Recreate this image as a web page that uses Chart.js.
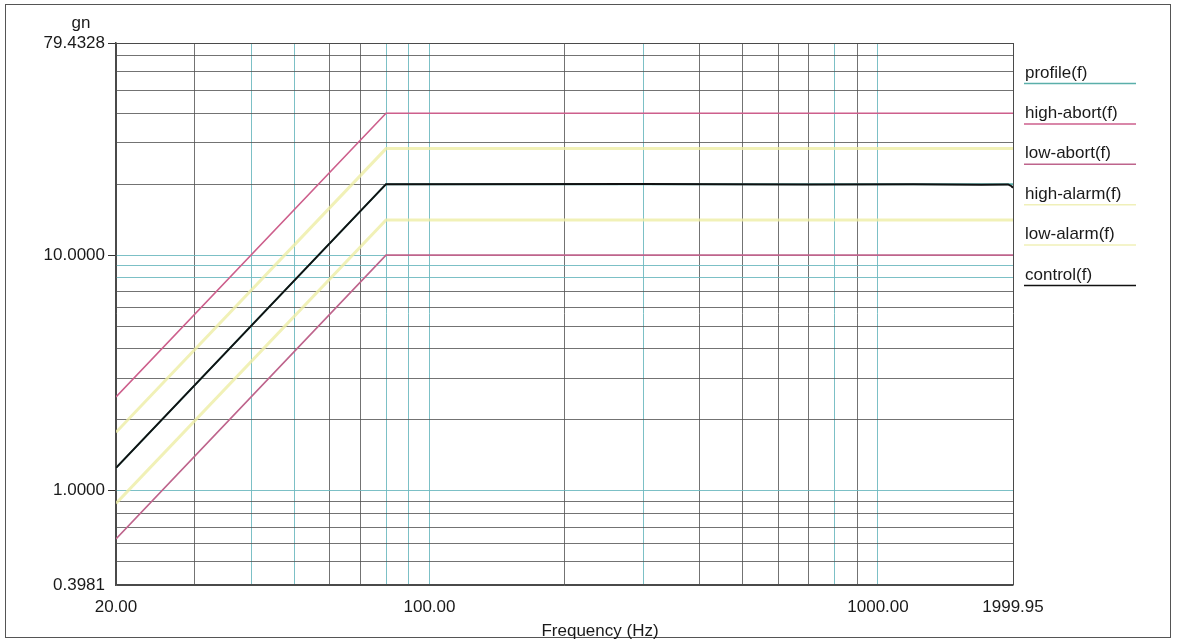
<!DOCTYPE html>
<html>
<head>
<meta charset="utf-8">
<script src="https://cdn.jsdelivr.net/npm/chart.js@4.4.0/dist/chart.umd.min.js"></script>
<style>
    html, body { margin: 0; padding: 0; background: #fff; }
    #wrap { position: relative; width: 1179px; height: 642px; overflow: hidden; }
    #frame { position: absolute; left: 5px; top: 4px; width: 1166px; height: 634px;
             border: 1.5px solid #555; box-sizing: border-box; }
    canvas { position: absolute; left: 0; top: 0; }
</style>
</head>
<body>
<div id="wrap">
    <div id="frame"></div>
    <canvas id="chart" width="1179" height="642"></canvas>
</div>
<script>
// Frequências (Hz) e níveis (gn)
const freqLimites = [20, 80, 1999.95];
const profile   = [1.25, 20, 20];
const highAbort = [2.5, 40, 40];
const lowAbort  = [0.625, 10, 10];
const highAlarm = [1.77, 28.3, 28.3];
const lowAlarm  = [0.884, 14.1, 14.1];

const freqControle = [20, 80, 300, 700, 1200, 1700, 1950, 1985, 1999.95];
const controle     = [1.25, 20, 20.05, 19.95, 20.0, 19.9, 19.95, 19.6, 19.3];

// Linhas de grade e rótulos dos eixos
const xGrade = [20, 30, 40, 50, 60, 70, 80, 90, 100, 200, 300, 400, 500, 600, 700, 800, 900, 1000, 1999.95];
const xRotulos = [20, 100, 1000, 1999.95];
const yGrade = [0.3981, 0.5, 0.6, 0.7, 0.8, 0.9, 1, 2, 3, 4, 5, 6, 7, 8, 9, 10, 20, 30, 40, 50, 60, 70, 79.4328];
const yRotulos = [0.3981, 1, 10, 79.4328];

// cores da grade (o scan mistura ciano e cinza)
const xCiano = [40, 50, 80, 90, 100, 300, 800, 1000];
const yCiano = [1, 8, 9, 10];
const COR_CIANO = 'rgba(110, 185, 192, 0.9)';
const COR_CINZA = 'rgba(80, 80, 80, 0.8)';
const COR_MOLDURA = '#4a4a4a';
const FONTE = '"Liberation Sans", Arial, sans-serif';

function pontos(xs, ys) {
    return xs.map((x, i) => ({ x, y: ys[i] }));
}

function contem(lista, v) {
    return lista.some(a => Math.abs(a - v) < 1e-6);
}

const textosPlugin = {
    id: 'textos',
    afterDraw(chart) {
        const ctx = chart.ctx;
        ctx.save();
        ctx.fillStyle = '#1a1a1a';
        ctx.font = '17px ' + FONTE;
        ctx.textAlign = 'center';
        ctx.textBaseline = 'middle';
        ctx.fillText('gn', 81, 23);
        ctx.fillText('Frequency (Hz)', 600, 631);

        // legenda sublinhada à direita
        ctx.textAlign = 'left';
        chart.data.datasets.forEach((ds, i) => {
            const y = 73 + i * 40.4;
            ctx.fillStyle = '#1a1a1a';
            ctx.fillText(ds.label, 1025, y);
            ctx.strokeStyle = ds.legendColor || ds.borderColor;
            ctx.lineWidth = 1.5;
            ctx.beginPath();
            ctx.moveTo(1024, y + 10.5);
            ctx.lineTo(1136, y + 10.5);
            ctx.stroke();
        });
        ctx.restore();
    }
};

const ctx = document.getElementById('chart').getContext('2d');
new Chart(ctx, {
    type: 'line',
    data: {
        datasets: [
            { label: 'profile(f)', data: pontos(freqLimites, profile),
              borderColor: 'rgba(90, 175, 170, 1)', borderWidth: 2, order: 2 },
            { label: 'high-abort(f)', data: pontos(freqLimites, highAbort),
              borderColor: 'rgba(205, 95, 140, 1)', borderWidth: 1.6, order: 1 },
            { label: 'low-abort(f)', data: pontos(freqLimites, lowAbort),
              borderColor: 'rgba(190, 100, 140, 1)', borderWidth: 1.6, order: 1 },
            { label: 'high-alarm(f)', data: pontos(freqLimites, highAlarm),
              borderColor: 'rgba(238, 238, 165, 0.8)', legendColor: 'rgba(240, 240, 185, 1)', borderWidth: 3, order: 1 },
            { label: 'low-alarm(f)', data: pontos(freqLimites, lowAlarm),
              borderColor: 'rgba(238, 238, 165, 0.8)', legendColor: 'rgba(240, 240, 185, 1)', borderWidth: 3, order: 1 },
            { label: 'control(f)', data: pontos(freqControle, controle),
              borderColor: '#111', borderWidth: 2, order: 0 }
        ]
    },
    options: {
        responsive: false,
        animation: false,
        events: [],
        layout: { padding: { left: 0, right: 166, top: 43, bottom: 0 } },
        elements: { point: { radius: 0 }, line: { tension: 0 } },
        plugins: { legend: { display: false }, tooltip: { enabled: false } },
        scales: {
            x: {
                type: 'logarithmic',
                min: 20,
                max: 1999.95,
                afterBuildTicks: (s) => { s.ticks = xGrade.map(v => ({ value: v })); },
                afterFit: (s) => { s.height = 57; },
                border: { display: true, color: COR_MOLDURA, width: 1.5 },
                grid: {
                    drawTicks: false,
                    lineWidth: 1,
                    color: (c) => {
                        const v = c.tick && c.tick.value;
                        if (v === 20 || v === 1999.95) return COR_MOLDURA;
                        return contem(xCiano, v) ? COR_CIANO : COR_CINZA;
                    }
                },
                ticks: {
                    autoSkip: false,
                    maxRotation: 0,
                    padding: 12,
                    color: '#1a1a1a',
                    font: { size: 17, family: FONTE },
                    callback: (v) => contem(xRotulos, v) ? v.toFixed(2) : ''
                }
            },
            y: {
                type: 'logarithmic',
                min: 0.3981,
                max: 79.4328,
                afterBuildTicks: (s) => { s.ticks = yGrade.map(v => ({ value: v })); },
                afterFit: (s) => { s.width = 116; },
                border: { display: true, color: COR_MOLDURA, width: 1.5 },
                grid: {
                    tickLength: 8,
                    lineWidth: 1,
                    color: (c) => {
                        const v = c.tick && c.tick.value;
                        if (v === 0.3981 || v === 79.4328) return COR_MOLDURA;
                        return contem(yCiano, v) ? COR_CIANO : COR_CINZA;
                    },
                    tickColor: (c) => {
                        const v = c.tick && c.tick.value;
                        return (v === 1 || v === 10 || v === 79.4328) ? '#333' : 'rgba(0,0,0,0)';
                    }
                },
                ticks: {
                    autoSkip: false,
                    padding: 3,
                    color: '#1a1a1a',
                    font: { size: 17, family: FONTE },
                    callback: (v) => contem(yRotulos, v) ? v.toFixed(4) : ''
                }
            }
        }
    },
    plugins: [textosPlugin]
});
</script>
</body>
</html>
